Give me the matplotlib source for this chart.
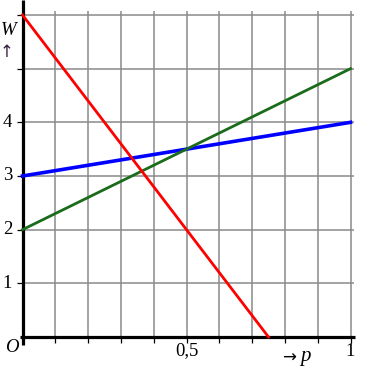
import matplotlib
matplotlib.use("Agg")
import matplotlib.pyplot as plt
import numpy as np

# data
p_vals = [0.0, 1.0]
blue_W = [3.0, 4.0]
green_W = [2.0, 5.0]
red_p = [0.0, 0.75]
red_W = [6.0, 0.0]
x_ticks = [0.5, 1.0]
x_tick_labels = ["0,5", "1"]
y_ticks = [1, 2, 3, 4]
y_tick_labels = ["1", "2", "3", "4"]

W, H = 368, 368
fig = plt.figure(figsize=(W / 100, H / 100), dpi=100)
ax = fig.add_axes([0, 0, 1, 1])
ax.set_axis_off()

x0, x1 = 22.5, 350.5
y0, y6 = 337.0, 15.0
sx = (x1 - x0)
sy = (y0 - y6) / 6.0
ax.set_xlim(-x0 / sx, (W - x0) / sx)
ax.set_ylim(-(H - y0) / sy, y0 / sy)

def px(xp, yp):
    return ((xp - x0) / sx, (y0 - yp) / sy)

serif = "Liberation Serif"
grid_c = "#8a8a8a"

top_y = px(0, 11)[1]
right_x = px(354, 0)[0]
for gx in np.arange(1, 11) / 10:
    ax.plot([gx, gx], [0, top_y], color=grid_c, lw=1.1, zorder=1, solid_capstyle="butt")
    ax.plot([gx, gx], [0, px(0, 343)[1]], color="black", lw=0.9, zorder=3, solid_capstyle="butt")
for gy in range(1, 7):
    ax.plot([0, right_x], [gy, gy], color=grid_c, lw=1.1, zorder=1, solid_capstyle="butt")
    ax.plot([px(17, 0)[0], 0], [gy, gy], color="black", lw=0.9, zorder=3, solid_capstyle="butt")

ax.plot([px(20, 0)[0], px(355, 0)[0]], [0, 0], color="black", lw=2.3, zorder=4, solid_capstyle="butt")
ax.plot([0, 0], [px(0, 345)[1], px(0, 0)[1]], color="black", lw=2.3, zorder=4, solid_capstyle="butt")

ax.plot(p_vals, blue_W, color="#0000ff", lw=2.6, zorder=5)
ax.plot(p_vals, green_W, color="#1a6b1a", lw=2.0, zorder=5)
ax.plot(red_p, red_W, color="#ff0000", lw=2.0, zorder=5)

fs = 13.5
for t, lab in zip(y_ticks, y_tick_labels):
    ax.text(px(7.5, 0)[0], t, lab, family=serif, fontsize=fs, ha="center", va="center", color="black")
for t, lab in zip(x_ticks, x_tick_labels):
    ax.text(t, px(0, 351)[1], lab, family=serif, fontsize=fs, ha="center", va="center", color="black")

ax.text(*px(12, 347), "O", family=serif, style="italic", fontsize=fs, ha="center", va="center")
ax.text(*px(9, 31), "W", family=serif, style="italic", fontsize=fs, ha="center", va="center")
ax.text(*px(6.5, 52), "↑", family="DejaVu Sans", fontsize=12, ha="center", va="center", color="#3a2040")
ax.text(*px(288.5, 358), "→", family="DejaVu Sans", fontsize=12, ha="center", va="center")
ax.text(*px(305, 356), "p", family=serif, style="italic", fontsize=fs + 1.5, ha="center", va="center")

fig.savefig("out.png", dpi=100)
